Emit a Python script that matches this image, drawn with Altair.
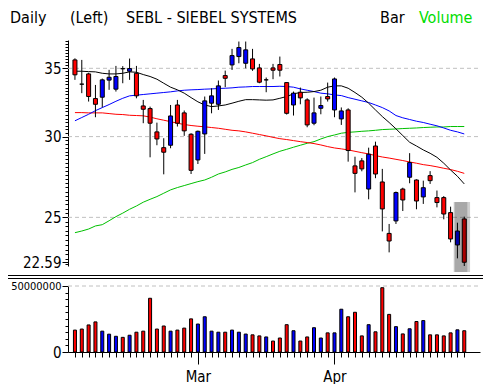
import altair as alt
import pandas as pd

FONT = "Liberation Sans Narrow, Arial Narrow, DejaVu Sans Condensed, Liberation Sans, sans-serif"

# ---------------- data ----------------
bar_index = list(range(58))
open_price = [35.67, 33.77, 34.56, 32.69, 32.79, 34.08, 33.39, 34.97, 34.77, 34.61,
              32.15, 31.96, 30.32, 29.26, 29.42, 32.22, 31.65, 30.16, 28.46, 30.18,
              32.35, 32.27, 34.43, 35.27, 35.94, 35.40, 35.75, 35.03, 34.10, 35.03,
              35.30, 33.89, 32.22, 33.16, 32.59, 30.92, 31.98, 32.84, 31.86, 31.22,
              31.86, 28.08, 28.40, 26.65, 29.37, 27.08, 24.11, 24.80, 26.65, 27.37,
              27.20, 26.18, 27.47, 26.14, 26.14, 25.27, 23.49, 24.91]
high_price = [35.80, 35.67, 34.65, 33.71, 34.20, 34.88, 35.19, 35.17, 35.78, 35.19,
              32.59, 32.10, 30.96, 29.89, 32.22, 32.59, 31.82, 30.23, 30.41, 32.84,
              33.46, 34.05, 34.82, 36.57, 37.18, 37.18, 36.57, 35.35, 34.28, 35.35,
              35.94, 33.92, 33.21, 33.51, 32.71, 32.76, 32.84, 33.89, 34.28, 32.04,
              31.98, 28.67, 28.58, 29.26, 29.66, 27.89, 24.63, 26.50, 26.73, 28.90,
              27.24, 27.16, 27.75, 26.56, 26.23, 25.61, 24.70, 25.04]
low_price = [34.10, 33.09, 32.47, 31.34, 32.05, 33.34, 33.21, 33.84, 34.10, 32.71,
             30.92, 28.63, 29.42, 27.55, 29.22, 30.69, 30.05, 27.57, 28.20, 28.85,
             31.62, 31.86, 33.54, 34.87, 35.40, 35.00, 34.80, 33.84, 33.16, 34.15,
             34.36, 31.53, 31.46, 32.27, 30.64, 30.78, 31.55, 32.47, 31.34, 30.80,
             28.35, 26.45, 27.74, 26.04, 27.31, 24.22, 23.10, 24.63, 25.36, 27.00,
             25.46, 25.77, 26.96, 25.57, 24.89, 23.63, 22.79, 22.40]
close_price = [34.49, 33.77, 32.84, 32.27, 34.10, 34.30, 34.36, 34.97, 34.98, 32.89,
               31.91, 30.92, 29.84, 28.96, 31.43, 30.92, 30.39, 27.80, 30.36, 32.52,
               32.89, 33.64, 34.22, 36.02, 36.68, 36.49, 34.95, 33.92, 34.10, 34.85,
               34.85, 31.62, 33.09, 32.74, 30.80, 31.65, 32.18, 32.66, 34.17, 31.79,
               29.07, 27.61, 27.89, 28.83, 27.57, 25.48, 23.70, 26.44, 26.00, 28.29,
               25.94, 26.73, 27.16, 25.85, 25.19, 23.81, 24.24, 22.59]
bar_dir = ["down", "down", "down", "down", "up", "up", "up", "down", "up", "down",
           "down", "down", "down", "down", "up", "down", "down", "down", "up", "up",
           "up", "up", "down", "up", "up", "up", "down", "down", "up", "down",
           "down", "down", "up", "down", "down", "up", "up", "down", "up", "up",
           "down", "down", "down", "up", "down", "down", "down", "up", "down", "up",
           "down", "up", "down", "down", "down", "down", "up", "down"]
volume = [16600000, 17400000, 20500000, 22800000, 15800000, 13500000, 11900000, 11100000, 12700000, 15000000,
          15800000, 40700000, 17400000, 19700000, 15800000, 16600000, 18100000, 25100000, 21200000, 26700000,
          15800000, 15000000, 15000000, 16600000, 15000000, 13600000, 13000000, 12200000, 11400000, 8300000,
          10600000, 20700000, 16100000, 8300000, 11400000, 18400000, 10600000, 14500000, 14500000, 32400000,
          26700000, 30100000, 12200000, 20700000, 15300000, 48700000, 28500000, 19200000, 13700000, 17600000,
          23100000, 23800000, 13000000, 13000000, 12200000, 14500000, 16800000, 16100000]

ma_black = [34.77, 34.77, 34.74, 34.72, 34.61, 34.56, 34.56, 34.61, 34.72, 34.69,
            34.51, 34.36, 34.15, 33.84, 33.54, 33.34, 33.09, 32.76, 32.45, 32.22,
            32.10, 32.15, 32.22, 32.35, 32.49, 32.61, 32.61, 32.59, 32.57, 32.59,
            32.71, 32.84, 33.04, 33.14, 33.16, 33.21, 33.31, 33.54, 33.64, 33.64,
            33.46, 33.14, 32.79, 32.35, 31.86, 31.39, 30.97, 30.53, 30.07, 29.62,
            29.37, 29.11, 28.89, 28.63, 28.25, 27.82, 27.43, 26.96]
ma_blue = [31.09, 31.32, 31.55, 31.81, 32.03, 32.25, 32.49, 32.71, 32.89, 32.94,
           32.99, 33.04, 33.09, 33.14, 33.19, 33.26, 33.31, 33.34, 33.36, 33.39,
           33.41, 33.44, 33.46, 33.49, 33.54, 33.56, 33.59, 33.59, 33.59, 33.59,
           33.61, 33.59, 33.54, 33.41, 33.31, 33.21, 33.09, 33.04, 32.96, 32.91,
           32.76, 32.64, 32.52, 32.40, 32.22, 32.03, 31.79, 31.46, 31.30, 31.18,
           31.06, 30.97, 30.85, 30.74, 30.59, 30.43, 30.32, 30.18]
ma_red = [31.67, 31.67, 31.65, 31.65, 31.65, 31.60, 31.55, 31.53, 31.48, 31.46,
          31.44, 31.35, 31.23, 31.13, 31.03, 30.92, 30.83, 30.76, 30.71, 30.67,
          30.62, 30.57, 30.50, 30.43, 30.39, 30.32, 30.23, 30.14, 30.05, 29.95,
          29.86, 29.80, 29.73, 29.66, 29.60, 29.53, 29.44, 29.33, 29.24, 29.18,
          29.11, 29.02, 28.93, 28.85, 28.74, 28.65, 28.58, 28.50, 28.42, 28.33,
          28.25, 28.16, 28.10, 28.02, 27.93, 27.85, 27.74, 27.61]
ma_green = [24.15, 24.24, 24.35, 24.52, 24.59, 24.81, 25.04, 25.24, 25.46, 25.65,
            25.87, 26.04, 26.20, 26.40, 26.60, 26.74, 26.86, 26.98, 27.10, 27.20,
            27.37, 27.57, 27.70, 27.86, 27.98, 28.14, 28.29, 28.50, 28.67, 28.85,
            29.02, 29.15, 29.29, 29.42, 29.55, 29.66, 29.84, 30.00, 30.11, 30.23,
            30.29, 30.32, 30.36, 30.39, 30.43, 30.48, 30.50, 30.52, 30.55, 30.57,
            30.59, 30.62, 30.64, 30.66, 30.66, 30.69, 30.69, 30.69]

price_grid = [25, 30, 35]
price_labels = [22.59, 25, 30, 35]
price_minor_ticks = [round(22.5 + 0.25 * k, 2) for k in range(60)]
volume_grid = [50000000]
volume_labels = [0, 50000000]
volume_ticks = [5000000 * k for k in range(11)]
month_labels = ["Mar", "Apr"]
month_start_index = [18, 38]
header_texts = ["Daily", "(Left)", "SEBL - SIEBEL SYSTEMS", "Bar", "Volume"]
highlight_bars = [55.45, 57.85, 55.6, 57.45]

# ---------------- tables ----------------
df = pd.DataFrame({
    "i": bar_index, "open": open_price, "high": high_price, "low": low_price,
    "close": close_price, "dir": bar_dir, "volume": volume,
})
df["body"] = [("doji" if o == c else d) for o, c, d in zip(open_price, close_price, bar_dir)]

# ---------------- scales / axes ----------------
PW, PH = 412, 332
x_min = -2 / 7
x_max = x_min + PW / 7
x_scale = alt.Scale(domain=[x_min, x_max], nice=False, zero=False)

month_expr = " : ".join(
    f"datum.value == {v} ? '{m}'" for v, m in zip(month_start_index, month_labels)
) + " : ''"
month_test = " || ".join(f"datum.value == {v}" for v in month_start_index)
x_axis = alt.Axis(
    values=bar_index, labelExpr=month_expr, grid=False,
    tickSize={"condition": {"test": month_test, "value": 12}, "value": 5},
    domainColor="black", tickColor="black", labelColor="black",
    labelFont=FONT, labelFontSize=15, labelPadding=5, labelOverlap=False,
    labelFlush=False, title=None,
)
x_enc = alt.X("i:Q", scale=x_scale, axis=x_axis, title=None)

price_label_list = "[" + ",".join(str(v) for v in price_labels) + "]"
price_scale = alt.Scale(type="log", domain=[22.40, 37.31], range=[246, 20], nice=False)
price_axis = alt.Axis(
    values=[v for v in price_minor_ticks if v not in price_labels] + price_labels,
    format=".4~g",
    labelExpr=f"indexof({price_label_list}, datum.value) >= 0 ? datum.label : ''",
    tickSize={"condition": {"test": f"indexof({price_label_list}, datum.value) >= 0", "value": 6}, "value": 3},
    grid=False, orient="left", domainColor="black", tickColor="black",
    labelColor="black", labelFont=FONT, labelFontSize=15, labelPadding=1,
    labelOverlap=False, title=None,
)

vol_label_list = "[" + ",".join(str(v) for v in volume_labels) + "]"
vol_scale = alt.Scale(domain=[0, 50000000], range=[332, 266], nice=False, zero=True)
vol_axis = alt.Axis(
    values=volume_ticks,
    labelExpr=f"indexof({vol_label_list}, datum.value) >= 0 ? '' + datum.value : ''",
    tickSize={"condition": {"test": f"indexof({vol_label_list}, datum.value) >= 0", "value": 6}, "value": 3},
    labelFontSize={"condition": {"test": "datum.value > 0", "value": 11}, "value": 15},
    grid=False, orient="left", domainColor="black", tickColor="black",
    labelColor="black", labelFont=FONT, labelPadding=1,
    labelOverlap=False, title=None,
)

fill_scale = alt.Scale(domain=["up", "down", "doji"], range=["#0000ff", "#ff0000", "#000000"])

# ---------------- price panel ----------------
base = alt.Chart(df)

grid = alt.Chart(pd.DataFrame({"p": price_grid})).mark_rule(
    color="#c0c0c0", strokeDash=[4, 3], strokeWidth=1
).encode(y=alt.Y("p:Q", scale=price_scale, axis=price_axis), x=alt.value(0), x2=alt.value(410))

ma_layers = []
for vals, col in [(ma_green, "#00c000"), (ma_red, "#ff0000"), (ma_blue, "#0000ff"), (ma_black, "#000000")]:
    ma_df = pd.DataFrame({"i": bar_index, "ma": vals})
    ma_layers.append(
        alt.Chart(ma_df).mark_line(color=col, strokeWidth=1).encode(
            x=x_enc, y=alt.Y("ma:Q", scale=price_scale, axis=price_axis)
        )
    )

wick = base.mark_rule(color="black", strokeWidth=1).encode(
    x=x_enc, y=alt.Y("low:Q", scale=price_scale, axis=price_axis), y2="high:Q"
)
body = base.mark_bar(size=4, stroke="black", strokeWidth=1).encode(
    x=x_enc, y=alt.Y("open:Q", scale=price_scale, axis=price_axis), y2="close:Q",
    fill=alt.Fill("body:N", scale=fill_scale, legend=None),
)

hl_df = pd.DataFrame({"a": [highlight_bars[0], highlight_bars[2]],
                      "b": [highlight_bars[1], highlight_bars[3]]})
highlight = alt.Chart(hl_df).mark_rect(color="black", opacity=0.19).encode(
    x=alt.X("a:Q", scale=x_scale, axis=x_axis), x2="b:Q",
    y=alt.value(182), y2=alt.value(252)
)

header_colors = ["black", "black", "black", "black", "#00dd00"]
header_x = [-58, 2, 58, 312, 351]
headers = []
for t, c, xp in zip(header_texts, header_colors, header_x):
    headers.append(
        alt.Chart(pd.DataFrame({"t": [t]})).mark_text(
            font=FONT, fontSize=16, align="left", baseline="alphabetic", color=c
        ).encode(text="t:N", x=alt.value(xp), y=alt.value(3))
    )

sep1 = alt.Chart(pd.DataFrame({"k": [0]})).mark_rule(color="black", strokeWidth=1).encode(
    x=alt.value(-60), x2=alt.value(430), y=alt.value(255.5))
sep2 = alt.Chart(pd.DataFrame({"k": [0]})).mark_rule(color="black", strokeWidth=1).encode(
    x=alt.value(-60), x2=alt.value(430), y=alt.value(258.5))

price_group = alt.layer(grid, *ma_layers, wick, body, highlight, *headers, sep1, sep2)

# ---------------- volume panel ----------------
vgrid = alt.Chart(pd.DataFrame({"v": volume_grid})).mark_rule(
    color="#c0c0c0", strokeDash=[4, 3], strokeWidth=1
).encode(y=alt.Y("v:Q", scale=vol_scale, axis=vol_axis), x=alt.value(0), x2=alt.value(410))

vbars = base.mark_bar(size=3, stroke="black", strokeWidth=1).encode(
    x=x_enc, y=alt.Y("volume:Q", scale=vol_scale, axis=vol_axis),
    fill=alt.Fill("dir:N", scale=fill_scale, legend=None),
)

volume_group = alt.layer(vgrid, vbars)

chart = alt.layer(price_group, volume_group).resolve_scale(y="independent").properties(
    width=PW, height=PH,
    padding={"left": 60, "top": 12, "right": 3, "bottom": 32},
    autosize=alt.AutoSizeParams(type="none"),
    background="white",
).configure_view(stroke=None)

chart.save("out.html", embed_options={"renderer": "svg", "actions": False})
